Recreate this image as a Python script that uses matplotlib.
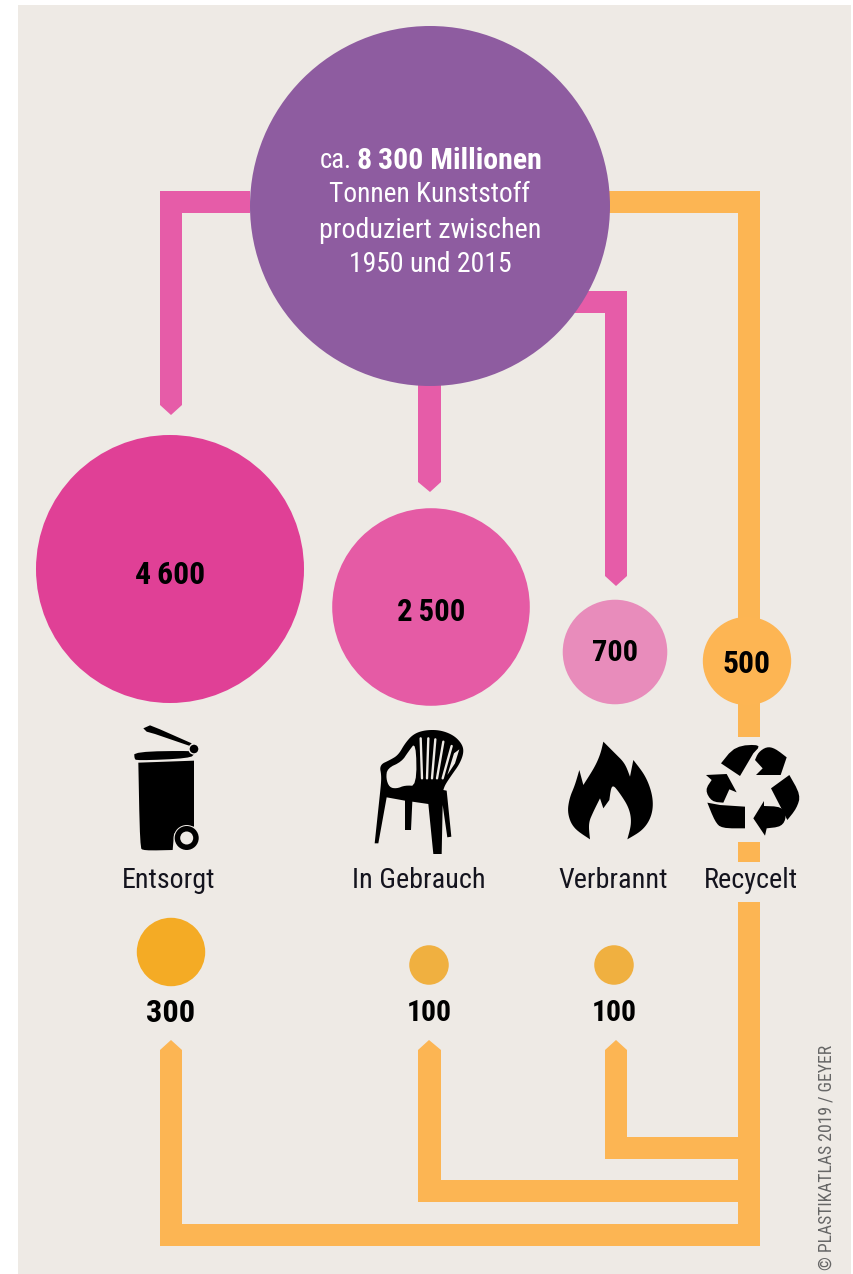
import matplotlib
matplotlib.use("Agg")
import matplotlib.pyplot as plt
from matplotlib.patches import Circle, Polygon, Rectangle
from matplotlib import font_manager as fm
import numpy as np

# ---- data ----
total_value = 8300
fate_labels = ["Entsorgt", "In Gebrauch", "Verbrannt", "Recycelt"]
fate_values = [4600, 2500, 700, 500]
fate_texts = ["4\u2009600", "2\u2009500", "700", "500"]
recycled_values = [300, 100, 100]
recycled_texts = ["300", "100", "100"]

# ---- style / layout ----
W, H = 854, 1274
BG = "#EEEAE5"
PINK = "#E65CA8"
ORANGE = "#FCB553"
fate_colors = ["#E04096", "#E55BA5", "#E88CBB", "#FDB553"]
rec_colors = ["#F4AB25", "#F0B040", "#F0B040"]
fate_xy = [(170, 569), (431, 607), (615, 652), (747, 661)]
rec_xy = [(171, 952), (429, 965), (614, 965)]
KR = 180 / np.sqrt(total_value)

names = {f.name for f in fm.fontManager.ttflist}
FONT = next((n for n in ["Roboto Condensed", "Liberation Sans Narrow", "Open Sans Condensed",
                         "Noto Sans Condensed", "Roboto"] if n in names), "DejaVu Sans")

fig = plt.figure(figsize=(W / 100, H / 100), dpi=100, facecolor="white")
ax = fig.add_axes([0, 0, 1, 1])
ax.set_xlim(0, W)
ax.set_ylim(H, 0)
ax.axis("off")
ax.add_patch(Rectangle((18, 5), 833, H - 5, fc=BG, lw=0, zorder=0))
renderer = fig.canvas.get_renderer()


def fit_text(x, y, s, width, size_guess, **kw):
    """Real text whose font size is chosen so its pixel width matches the reference."""
    t = ax.text(x, y, s, fontsize=size_guess, family=FONT, va="center", zorder=5, **kw)
    bb = t.get_window_extent(renderer)
    measured = bb.height if kw.get("rotation") == 90 else bb.width
    t.set_fontsize(size_guess * width / measured)
    return t


def poly(pts, color, z=2):
    ax.add_patch(Polygon(pts, closed=True, fc=color, ec="none", lw=0, zorder=z))


def zoomed(pts, ox, oy):
    return [(ox + x / 3, oy + y / 3) for x, y in pts]


def rounded(pts, sharp=(), n=3):
    """Corner cutting that leaves the vertices listed in sharp untouched."""
    P = [(np.array(p, float), i in sharp) for i, p in enumerate(pts)]
    for _ in range(n):
        Q = []
        m = len(P)
        for i, (v, s) in enumerate(P):
            if s:
                Q.append((v, True))
            else:
                Q.append((0.75 * v + 0.25 * P[i - 1][0], False))
                Q.append((0.75 * v + 0.25 * P[(i + 1) % m][0], False))
        P = Q
    return [tuple(v) for v, _ in P]


# ---- pink connectors ----
poly([(250, 191), (160, 191), (160, 405), (171, 415), (182, 405), (182, 213), (250, 213)], PINK)
poly([(418, 380), (418, 482), (430, 492), (441, 482), (441, 380)], PINK)
poly([(570, 291), (627, 291), (627, 576), (616, 586), (605, 576), (605, 313), (570, 313)], PINK)

# ---- orange connectors ----
poly([(600, 191), (760, 191), (760, 737), (738, 737), (738, 213), (600, 213)], ORANGE)
poly([(738, 842), (760, 842), (760, 862), (738, 862)], ORANGE)
poly([(738, 902), (760, 902), (760, 1246), (738, 1246)], ORANGE)
poly([(160, 1050), (171, 1040), (182, 1050), (182, 1224), (738, 1224), (738, 1246), (160, 1246)], ORANGE)
poly([(418, 1050), (429, 1040), (441, 1050), (441, 1180), (738, 1180), (738, 1202), (418, 1202)], ORANGE)
poly([(605, 1050), (616, 1040), (627, 1050), (627, 1137), (738, 1137), (738, 1159), (605, 1159)], ORANGE)

# ---- circles from values ----
ax.add_patch(Circle((430, 206), KR * np.sqrt(total_value), fc="#8E5CA0", lw=0, zorder=3))
for v, xy, c in zip(fate_values, fate_xy, fate_colors):
    ax.add_patch(Circle(xy, KR * np.sqrt(v), fc=c, lw=0, zorder=3))
for v, xy, c in zip(recycled_values, rec_xy, rec_colors):
    ax.add_patch(Circle(xy, KR * np.sqrt(v), fc=c, lw=0, zorder=3))

# ---- text ----
TXT = "#14141E"
fit_text(352, 161, "ca.", 32, 18, color="white", ha="right")
fit_text(357, 161, "8\u2009300 Millionen", 184, 18, color="white", weight="bold", ha="left")
for txt, y, w in [("Tonnen Kunststoff", 194, 201), ("produziert zwischen", 230, 222), ("1950 und 2015", 264, 163)]:
    fit_text(430, y, txt, w, 18, color="white", ha="center")

for t, (x, y), w in zip(fate_texts, [(170, 575), (431, 612), (615, 653), (747, 664)], [70, 68, 46, 48]):
    fit_text(x, y, t, w, 20, color="black", weight="bold", ha="center")
for t, (x, y), w in zip(fate_labels, [(169, 881), (419, 881), (613, 881), (751, 881)], [93, 133, 109, 94]):
    fit_text(x, y, t, w, 18, color=TXT, ha="center")
for t, x, w in zip(recycled_texts, [171, 429, 614], [49, 45, 45]):
    fit_text(x, 1013, t, w, 20, color="black", weight="bold", ha="center")
fit_text(827, 1157, "\u00a9 PLASTIKATLAS 2019 / GEYER", 225, 12, color="#666666", rotation=90, ha="center")

# ---- icon: bin ----
O1 = (100, 710)
poly(rounded(zoomed([(115, 158), (282, 152), (282, 350), (245, 350), (222, 372), (218, 420), (130, 422), (120, 412)], *O1),
             sharp=(0, 1, 2, 3, 4, 5), n=2), "black")
poly(rounded(zoomed([(103, 125), (285, 122), (285, 130), (270, 145), (110, 152), (103, 145)], *O1), n=2), "black")
poly(zoomed([(130, 55), (150, 46), (180, 58), (275, 100), (270, 108), (165, 72), (140, 65)], *O1), "black")
ax.add_patch(Circle((194, 749), 5, fc="black", ec=BG, lw=1, zorder=3))
ax.add_patch(Circle((186.7, 838), 13, fc=BG, lw=0, zorder=3))
ax.add_patch(Circle((186.7, 838), 12, fc="black", lw=0, zorder=3))
ax.add_patch(Circle((186.7, 838), 6.5, fc=BG, lw=0, zorder=3))

# ---- icon: chair ----
chair = [(838, 165), (870, 150), (895, 135), (915, 100), (940, 72), (975, 60), (1020, 60), (1060, 75), (1085, 100),
         (1092, 125), (1080, 160), (1055, 195), (1035, 225), (1030, 240), (1040, 242), (1054, 380), (1042, 382),
         (1028, 285), (1025, 432), (1000, 432), (985, 282), (937, 275), (933, 360), (915, 360), (915, 272), (860, 262),
         (835, 400), (824, 400), (840, 250), (845, 200)]
poly(rounded(zoomed(chair, *O1), sharp=tuple(range(13, 29)), n=3), "black")
hole = [(862, 175), (905, 155), (925, 125), (948, 95), (950, 228), (915, 226), (890, 236), (868, 232), (858, 205)]
poly(rounded(zoomed(hole, *O1), n=2), BG, z=3)
for a, b in [((962, 85), (966, 205)), ((985, 85), (981, 205)), ((1006, 88), (996, 205)),
             ((1030, 95), (1011, 205)), ((1055, 108), (1028, 205))]:
    p = zoomed([a, b], *O1)
    ax.plot([p[0][0], p[1][0]], [p[0][1], p[1][1]], color=BG, lw=1.7, solid_capstyle="round", zorder=3)
poly(zoomed([(1078, 118), (1065, 160), (1042, 195), (1062, 130)], *O1), BG, z=3)

# ---- icon: flame ----
O2 = (540, 720)
flame = [(150, 358), (100, 325), (82, 280), (88, 235), (105, 195), (118, 150), (130, 195), (165, 140), (182, 100),
         (190, 65), (225, 100), (255, 130), (270, 170), (280, 120), (315, 165), (335, 215), (340, 260), (330, 300),
         (305, 333), (262, 358), (275, 310), (268, 265), (240, 220), (215, 190), (208, 240), (190, 265), (180, 235),
         (160, 275), (145, 310)]
poly(rounded(zoomed(flame, *O2), sharp=(0, 5, 6, 9, 12, 13, 19, 24, 25, 26), n=3), "black")

# ---- icon: recycling ----
rec_parts = [
    ([(543, 130), (585, 78), (665, 73), (640, 100), (600, 168)], (0, 3, 4)),
    ([(645, 120), (655, 97), (680, 80), (705, 85), (740, 112), (722, 165), (648, 165), (668, 145)], (0, 4, 5, 6, 7)),
    ([(498, 165), (560, 162), (590, 217), (568, 208), (550, 248), (515, 245), (495, 210), (515, 180)], (0, 1, 2, 3, 4, 7)),
    ([(502, 248), (540, 255), (615, 260), (615, 325), (545, 325), (525, 305)], (0, 1, 2, 3)),
    ([(693, 205), (748, 165), (782, 225), (770, 265), (742, 300)], (0, 1, 4)),
    ([(672, 243), (672, 258), (725, 260), (740, 290), (725, 320), (680, 325), (675, 347), (640, 295)], (0, 1, 5, 6, 7)),
]
for part, sharp in rec_parts:
    poly(rounded(zoomed(part, *O2), sharp=sharp, n=2), "black")

fig.savefig("out.png", dpi=100, facecolor="white")
